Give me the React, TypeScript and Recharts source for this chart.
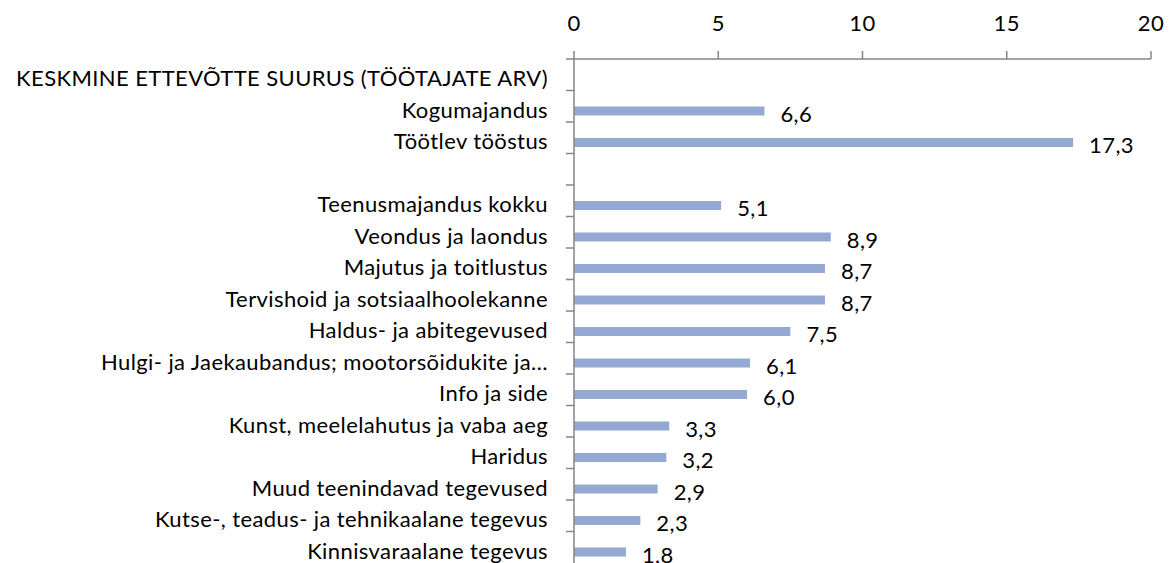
import { BarChart, Bar, XAxis, YAxis, LabelList } from 'recharts';

// Rows as they appear top to bottom (blank names = header / spacer rows)
const categories = [
    'KESKMINE ETTEVÕTTE SUURUS (TÖÖTAJATE ARV)',
    'Kogumajandus',
    'Töötlev tööstus',
    '',
    'Teenusmajandus kokku',
    'Veondus ja laondus',
    'Majutus ja toitlustus',
    'Tervishoid ja sotsiaalhoolekanne',
    'Haldus- ja abitegevused',
    'Hulgi- ja Jaekaubandus; mootorsõidukite ja…',
    'Info ja side',
    'Kunst, meelelahutus ja vaba aeg',
    'Haridus',
    'Muud teenindavad tegevused',
    'Kutse-, teadus- ja tehnikaalane tegevus',
    'Kinnisvaraalane tegevus',
];

const avgSize: (number | null)[] = [null, 6.6, 17.3, null, 5.1, 8.9, 8.7, 8.7, 7.5, 6.1, 6.0, 3.3, 3.2, 2.9, 2.3, 1.8];

const xTicks = [0, 5, 10, 15, 20];

const data = categories.map((name, i) => ({ name, value: avgSize[i], pad: null }));

const W = 1170;
const H = 563;
const TOP = 59;
const BAND = (H - TOP) / categories.length;
const AXIS = '#868686';
const FONT = 'Lato, sans-serif';
const FS = 22;
const LS = 0.4;

const fmt = (v: any) => (v == null ? '' : Number(v).toFixed(1).replace('.', ','));

// category label + Excel-style tick between rows
const CatTick = (props: any) => {
    const { x, y, payload } = props;
    return (
        <g>
            <text x={x} y={y + 3} textAnchor="end" dominantBaseline="central" fontSize={FS} letterSpacing={LS} fontFamily={FONT} fill="#000">
                {payload.value}
            </text>
            <line x1={x + 18} x2={x + 26} y1={y - BAND / 2} y2={y - BAND / 2} stroke={AXIS} strokeWidth={1.5} />
        </g>
    );
};

const ValueLabel = (props: any) => {
    const { x, y, width, height, value } = props;
    if (value == null) return null;
    return (
        <text x={x + width + 16} y={y + height / 2 + 2} dominantBaseline="central" fontSize={FS} letterSpacing={LS} fontFamily={FONT} fill="#000">
            {fmt(value)}
        </text>
    );
};

export default function App() {
    return (
        <div style={{ position: 'absolute', left: 0, top: 0, background: '#fff' }}>
            <BarChart
                width={W}
                height={H}
                data={data}
                layout="vertical"
                margin={{ top: 0, right: 19, left: 0, bottom: 0 }}
                barGap={0}
            >
                <XAxis
                    type="number"
                    orientation="top"
                    domain={[0, 20]}
                    ticks={xTicks}
                    height={TOP}
                    tickSize={8}
                    tickMargin={20}
                    stroke={AXIS}
                    strokeWidth={1.5}
                    tick={{ fill: '#000', fontSize: FS, fontFamily: FONT, letterSpacing: LS }}
                />
                <YAxis
                    type="category"
                    dataKey="name"
                    width={574}
                    interval={0}
                    tickSize={0}
                    tickMargin={26}
                    tickLine={false}
                    stroke={AXIS}
                    strokeWidth={1.5}
                    tick={<CatTick />}
                />
                {/* empty first series keeps the Excel offset of the visible bars */}
                <Bar dataKey="pad" fill="transparent" barSize={9} isAnimationActive={false} />
                <Bar dataKey="value" fill="#93A9D4" barSize={9} isAnimationActive={false}>
                    <LabelList dataKey="value" content={<ValueLabel />} />
                </Bar>
            </BarChart>
        </div>
    );
}
